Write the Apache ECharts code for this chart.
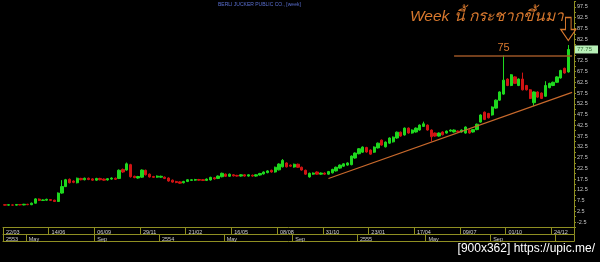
<!DOCTYPE html>
<html><head><meta charset="utf-8">
<script src="https://cdn.jsdelivr.net/npm/echarts@6/dist/echarts.min.js"></script>
<style>html,body{margin:0;padding:0;background:#000;}#c{width:600px;height:262px;}</style>
</head><body><div id="c"></div>
<script>
// ---------- data ----------
const firstWeek = '2010-03-22';
const weekCount = 150;
const topTickIdx = [0, 12, 24, 36, 48, 60, 72, 84, 96, 108, 120, 132, 144];
const topTickLabels = ['22/03', '14/06', '06/09', '29/11', '21/02', '16/05', '08/08', '31/10', '23/01', '17/04', '09/07', '01/10', '24/12'];
const bottomTickIdx = [0, 6, 24, 41, 58, 76, 93, 111, 128, 145];
const bottomTickLabels = ['2553', 'May', 'Sep', '2554', 'May', 'Sep', '2555', 'May', 'Sep', ''];

const opens = [5.6,5.4,5.5,5.4,5.7,5.5,5.8,5.6,6.3,8.2,7.6,7.7,8.0,7.7,7.1,11.0,14.0,17.4,16.6,15.8,
17.8,17.2,17.9,17.6,17.0,17.8,17.5,17.1,17.5,17.9,17.8,22.0,21.7,24.2,18.8,18.0,18.4,21.6,19.8,18.7,
18.4,18.4,18.4,18.0,17.0,16.4,16.2,15.8,16.4,16.9,17.0,17.3,17.2,16.9,17.1,18.1,17.8,18.6,19.8,18.8,
19.5,19.2,18.9,19.5,18.9,19.3,18.9,19.4,19.9,20.5,21.6,20.8,21.8,23.2,25.0,24.0,23.1,24.4,23.0,21.6,
18.5,19.8,20.8,19.8,20.3,19.8,20.4,21.3,22.6,23.5,24.0,24.2,27.3,29.3,30.0,32.2,31.0,30.0,32.0,35.6,
32.5,34.2,34.8,36.6,39.3,38.0,41.2,38.9,39.4,40.3,42.0,42.6,40.3,38.9,37.5,39.4,38.9,39.8,39.4,39.8,
39.4,38.9,40.3,39.4,40.5,44.0,48.6,48.0,47.3,50.5,54.2,57.0,64.0,61.0,65.0,61.0,64.0,61.0,59.0,53.0,
58.0,57.5,56.0,60.0,61.0,62.5,64.5,69.0,67.3];
const closes = [5.4,5.6,5.4,5.7,5.5,5.8,5.6,6.3,8.3,7.6,7.8,8.1,7.6,7.1,11.0,14.0,17.2,15.8,16.0,17.9,
17.2,17.9,17.3,17.0,17.8,17.2,17.0,17.7,18.0,17.4,21.6,20.8,24.6,18.6,18.2,18.7,21.7,19.5,18.5,18.3,
18.9,18.8,17.8,16.6,16.1,15.9,15.6,16.4,17.2,17.2,17.3,17.0,16.9,17.5,18.3,17.6,18.9,20.2,18.8,19.8,
19.0,18.9,19.5,18.9,19.5,18.9,19.5,20.1,20.8,21.3,20.8,23.0,24.5,26.2,23.2,23.5,24.4,23.0,21.7,19.8,
20.2,20.3,19.8,20.3,19.8,21.0,22.0,23.0,24.0,24.6,25.0,28.2,29.6,31.6,32.4,30.1,29.1,32.4,34.2,33.3,
34.7,36.6,37.0,39.3,37.5,41.2,38.9,40.3,41.2,42.6,43.2,40.3,37.2,37.5,38.9,38.1,39.8,40.3,40.3,39.4,
40.3,41.7,38.9,40.5,43.0,47.3,45.2,46.0,51.0,54.2,58.0,63.5,61.0,66.0,62.0,64.0,59.0,59.0,55.0,58.0,
55.6,55.0,61.0,62.0,62.5,65.0,68.0,66.8,77.75];
const lows = [5.2,5.2,5.2,5.2,5.3,5.3,5.4,5.4,6.1,7.3,7.3,7.4,7.3,6.9,6.9,10.7,13.8,15.5,15.6,15.5,
16.9,16.9,17.0,16.7,16.7,16.9,16.7,16.8,17.2,17.1,17.5,20.4,21.4,18.2,17.9,17.7,18.1,19.2,18.2,18.0,
18.1,18.1,17.5,16.3,15.8,15.6,15.3,15.5,16.1,16.6,16.7,16.7,16.6,16.6,16.8,17.3,17.5,18.3,18.5,18.5,
18.7,18.6,18.6,18.6,18.6,18.6,18.6,19.1,19.6,20.2,20.5,20.5,21.5,22.9,22.9,23.2,22.8,22.7,21.4,19.5,
18.2,19.5,19.5,19.5,19.5,19.5,20.1,21.0,22.3,23.2,23.7,23.9,27.0,29.0,29.7,29.8,28.8,29.7,31.7,33.0,
32.2,33.9,34.5,36.3,37.2,37.7,38.6,38.6,39.1,40.0,41.7,40.0,35.0,37.2,37.2,37.8,38.6,39.5,39.1,39.1,
39.1,38.6,38.6,39.1,40.2,43.7,44.9,45.7,47.0,50.2,53.9,56.7,60.7,60.7,61.7,60.7,58.7,58.7,54.7,51.5,
55.3,54.7,55.7,59.7,60.7,62.2,64.2,66.5,67.0];
const highs = [5.8,5.8,5.7,5.9,5.9,6.0,6.0,6.6,8.6,8.5,8.1,8.4,8.2,7.9,11.3,17.0,17.6,17.8,16.9,18.2,
18.1,18.2,18.2,17.9,18.1,18.1,17.8,18.0,18.3,18.2,22.0,22.4,25.2,24.6,19.1,19.0,22.0,21.9,20.1,19.0,
19.2,19.1,18.7,18.3,17.3,16.7,16.5,16.7,17.5,17.5,17.6,17.6,17.5,17.8,18.6,18.4,19.2,20.5,20.1,20.1,
19.8,19.5,19.8,19.8,19.8,19.6,19.8,20.4,21.1,21.6,21.9,23.3,24.8,26.8,25.3,24.3,24.7,24.7,23.3,21.9,
20.5,20.6,21.1,20.6,20.6,21.3,22.3,23.3,24.3,24.9,25.3,28.5,29.9,31.9,32.7,32.5,31.3,32.7,34.5,35.9,
35.0,36.9,37.3,39.6,39.6,41.5,41.5,40.6,41.5,42.9,44.2,42.9,40.6,39.2,39.2,39.7,40.1,40.6,40.6,40.1,
40.6,42.0,40.6,40.8,43.3,47.6,48.9,48.3,51.3,54.5,58.3,75.0,64.3,66.3,65.3,64.3,67.0,61.3,59.3,58.3,
58.3,57.8,63.0,62.3,62.8,65.3,68.3,69.3,79.8];

const lastPrice = 77.75;
const resistanceLevel = 75;
const resistanceFrom = 118, resistanceTo = 149, resistanceLabelAt = 131;
const trendStart = [85, 17.8], trendEnd = [149, 57.8];
const arrowAt = [148, 87.3];
const titleText = 'BERLI JUCKER PUBLIC CO., [week]';
const noteText = 'Week นี้ กระชากขึ้นมา';
const watermarkText = '[900x362] https://upic.me/';

// ---------- build ----------
const categories = [];
const base = new Date(firstWeek + 'T00:00:00Z');
for (let i = 0; i < weekCount; i++) {
  const d = new Date(base.getTime() + i * 7 * 86400000);
  categories.push(String(d.getUTCDate()).padStart(2, '0') + '/' + String(d.getUTCMonth() + 1).padStart(2, '0') + '/' + d.getUTCFullYear());
}
const topMap = new Map(topTickIdx.map((k, j) => [k, topTickLabels[j]]));
const botMap = new Map(bottomTickIdx.map((k, j) => [k, bottomTickLabels[j]]));
const candles = opens.map((o, i) => [o, closes[i], lows[i], highs[i]]);

const OL = '#8f8f22';
const ORANGE = '#d8782e';
const FONT = '"Liberation Sans", Arial, sans-serif';

const chart = echarts.init(document.getElementById('c'), null, {renderer: 'canvas'});
const bandAxis = (extra) => Object.assign({
  type: 'category', data: categories, boundaryGap: true, gridIndex: 0, position: 'bottom',
  axisLine: {show: true, onZero: false, lineStyle: {color: OL, width: 1}},
  splitLine: {show: false}
}, extra);

chart.setOption({
  backgroundColor: '#000',
  animation: false,
  grid: {left: 3, right: 26, top: 1.6, bottom: 34.5},
  xAxis: [
    bandAxis({
      axisTick: {show: true, interval: (i) => topMap.has(i), length: 7, lineStyle: {color: OL}},
      axisLabel: {show: true, interval: (i) => topMap.has(i), formatter: (v, i) => topMap.get(i) || '',
        align: 'left', verticalAlign: 'top', margin: 1.5, padding: [0, 0, 0, 1], fontSize: 5.5, color: '#cfcfcf', fontFamily: FONT}
    }),
    bandAxis({
      offset: 7,
      axisTick: {show: true, interval: (i) => botMap.has(i), length: 7, lineStyle: {color: OL}},
      axisLabel: {show: true, interval: (i) => botMap.has(i), formatter: (v, i) => botMap.get(i) || '',
        align: 'left', verticalAlign: 'top', margin: 1.5, padding: [0, 0, 0, 1], fontSize: 5.5, color: '#cfcfcf', fontFamily: FONT}
    }),
    bandAxis({offset: 14, axisTick: {show: false}, axisLabel: {show: false}})
  ],
  yAxis: {
    type: 'value', position: 'right', min: -5, max: 100, interval: 2.5, scale: false,
    axisLine: {show: true, lineStyle: {color: OL}},
    axisTick: {show: true, length: 2, lineStyle: {color: OL}},
    axisLabel: {fontSize: 5.5, color: '#c8c8c8', margin: 3, fontFamily: FONT,
      formatter: (v) => (Math.abs(Math.round(v * 10) % 50) === 25 ? v.toFixed(1) : '')},
    splitLine: {show: false}
  },
  graphic: [
    {type: 'text', left: 218, top: 2, style: {text: titleText, fill: '#5a6fd0', font: '5px ' + FONT}},
    {type: 'text', left: 410, top: 9, style: {text: noteText, fill: ORANGE, font: 'italic 15.5px ' + FONT}},
    {type: 'text', right: 5, top: 243, style: {text: watermarkText, fill: '#ffffff', font: '12px ' + FONT}}
  ],
  series: [{
    type: 'candlestick',
    data: candles,
    barWidth: 2.8,
    clip: false,
    itemStyle: {color: '#1ed81e', color0: '#d01414', borderColor: '#1ed81e', borderColor0: '#d01414', borderWidth: 1},
    markLine: {
      silent: true, symbol: ['none', 'none'], animation: false, z: 10,
      data: [
        [{coord: trendStart, lineStyle: {color: '#c8692c', width: 1.2, type: 'solid'}, label: {show: false}},
         {coord: trendEnd}],
        [{coord: [resistanceFrom, resistanceLevel], lineStyle: {color: '#9a5526', width: 1.5, type: 'solid'}, label: {show: false}},
         {coord: [resistanceTo, resistanceLevel]}],
        {yAxis: lastPrice, lineStyle: {width: 1, color: 'rgba(0,0,0,0)'},
         label: {show: true, position: 'end', distance: 1, formatter: String(lastPrice), fontSize: 6, color: '#3a6a3a',
           backgroundColor: '#b8f0b8', padding: [1, 6, 1, 2], fontFamily: FONT}}
      ]
    },
    markPoint: {
      silent: true, animation: false,
      data: [
        {coord: [resistanceLabelAt, resistanceLevel], symbol: 'circle', symbolSize: 1, itemStyle: {color: 'rgba(0,0,0,0)'},
         label: {show: true, position: 'inside', offset: [0, -7], formatter: String(resistanceLevel), color: ORANGE, fontSize: 11, fontFamily: FONT}},
        {coord: arrowAt, symbol: 'path://M5 0 L11 0 L11 12 L16 12 L8 23 L0 12 L5 12 Z', symbolSize: [15, 23], symbolKeepAspect: false,
         itemStyle: {color: 'rgba(0,0,0,0)', borderColor: ORANGE, borderWidth: 1.2}, label: {show: false}}
      ]
    }
  }]
});
</script></body></html>
